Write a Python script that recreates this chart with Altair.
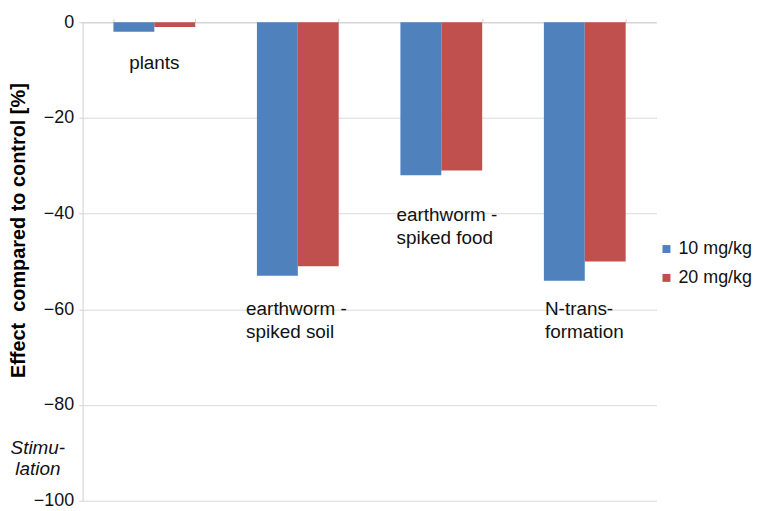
import altair as alt
import pandas as pd

categories = ["plants", "earthworm - spiked soil", "earthworm - spiked food", "N-transformation"]
doses = ["10 mg/kg", "20 mg/kg"]
effect_10 = [-2, -53, -32, -54]
effect_20 = [-1, -51, -31, -50]
colors = ["#4F81BD", "#C0504D"]
y_ticks = [0, -20, -40, -60, -80, -100]

label_texts = ["plants", "earthworm -\nspiked soil", "earthworm -\nspiked food", "N-trans-\nformation"]
label_y = [-8.5, -60, -40.3, -60]
label_dx = [0, -52, -45, -40]
label_align = ["center", "left", "left", "left"]

rows = []
for c, a, b in zip(categories, effect_10, effect_20):
    rows.append({"category": c, "dose": doses[0], "value": a})
    rows.append({"category": c, "dose": doses[1], "value": b})
df = pd.DataFrame(rows)

FONT = "Liberation Sans"
FS = 19

x_enc = alt.X(
    "category:N", sort=categories,
    scale=alt.Scale(paddingInner=0.43, paddingOuter=0.215),
    axis=alt.Axis(orient="top", labels=False, title=None, domainColor="#d0d0d0",
                  tickColor="#d0d0d0", tickBand="extent", tickSize=4, grid=False),
)

bars = alt.Chart(df).mark_bar().encode(
    x=x_enc,
    xOffset=alt.XOffset("dose:N", sort=doses, scale=alt.Scale(paddingInner=0, paddingOuter=0)),
    y=alt.Y("value:Q", scale=alt.Scale(domain=[-100, 0], nice=False),
            axis=alt.Axis(values=y_ticks, title="Effect\u00a0 compared to control [%]",
                          titleFontSize=20, titleFontWeight="bold", titleColor="#000",
                          titlePadding=5, titleY=209, labelFontSize=18, labelColor="#111",
                          labelPadding=5, gridColor="#d9d9d9", domainColor="#d0d0d0",
                          tickColor="#d0d0d0", tickSize=4)),
    color=alt.Color("dose:N", sort=doses, scale=alt.Scale(domain=doses, range=colors),
                    legend=alt.Legend(title=None, orient="none", legendX=578, legendY=219,
                                      padding=0, symbolType="square", symbolSize=64,
                                      labelFontSize=18, labelColor="#111", rowPadding=11,
                                      symbolStrokeWidth=0, labelOffset=3)),
)

layers = [bars]
for cat, txt, yv, dx, al in zip(categories, label_texts, label_y, label_dx, label_align):
    d = pd.DataFrame({"category": [cat], "y": [yv], "t": [txt]})
    layers.append(
        alt.Chart(d).mark_text(align=al, baseline="middle", dx=dx, fontSize=FS,
                               lineBreak="\n", lineHeight=23, font=FONT, color="#111")
        .encode(x=alt.X("category:N", sort=categories), y="y:Q", text="t:N")
    )

stim = pd.DataFrame({"y": [-88.9], "t": ["Stimu-\nlation"]})
layers.append(
    alt.Chart(stim).mark_text(align="center", baseline="middle", fontSize=FS, fontStyle="italic",
                              lineBreak="\n", lineHeight=22, font=FONT, color="#111")
    .encode(x=alt.value(-45), y="y:Q", text="t:N")
)

chart = alt.layer(*layers).properties(
    width=577, height=481,
    padding={"left": 0, "top": 4, "right": 0, "bottom": 0},
).configure(font=FONT).configure_view(stroke=None)

chart.save("out.html", embed_options={"renderer": "svg", "actions": False})
